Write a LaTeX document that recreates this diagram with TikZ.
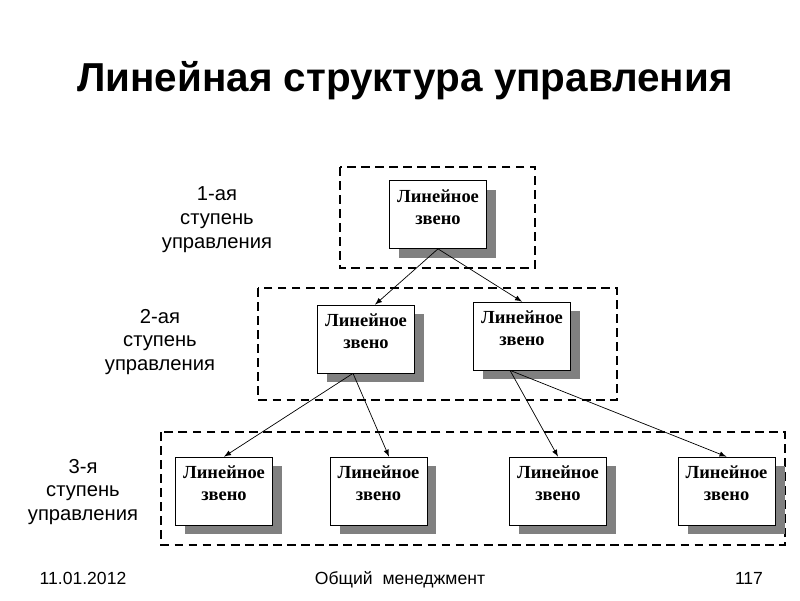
\documentclass[tikz,border=0pt]{standalone}
\usepackage{fontspec}
\setmainfont{Liberation Sans}
\newfontfamily\zvenofont{Liberation Serif}
\usetikzlibrary{shadows}

\begin{document}
\begin{tikzpicture}[x=0.02cm, y=-0.02cm, >=latex,
    zveno/.style={rectangle, draw, fill=white, thin, minimum width=1.94cm, minimum height=1.36cm,
        align=center, font=\zvenofont\bfseries\fontsize{10.5}{12.5}\selectfont, text depth=0.3cm,
        drop shadow={shadow xshift=0.19cm, shadow yshift=-0.18cm, fill=black!50, opacity=1}},
    uroven/.style={draw, dash pattern=on 5pt off 3pt, line width=1.1pt},
    stupen/.style={align=center, font=\fontsize{11.5}{13.6}\selectfont},
    podval/.style={anchor=base, font=\fontsize{10}{12}\selectfont}]
    \useasboundingbox (0,0) rectangle (800,600);

    \node[anchor=base, font=\bfseries\fontsize{23}{27}\selectfont] (title) at (405,91) {Линейная структура управления};

    % levels
    \draw[uroven] (340,167) rectangle (535,268);
    \draw[uroven] (258,288) rectangle (617,400);
    \draw[uroven] (161,432) rectangle (785,545);

    \node[stupen] (st1) at (217,220) {1-ая\\ступень\\управления};
    \node[stupen] (st2) at (160,342) {2-ая\\ступень\\управления};
    \node[stupen] (st3) at (83,492) {3-я\\ступень\\управления};

    \node[zveno] (L1) at (438,214.5) {Линейное\\звено};
    \node[zveno] (L2a) at (366,339) {Линейное\\звено};
    \node[zveno] (L2b) at (522,336) {Линейное\\звено};
    \node[zveno] (L3a) at (224,491) {Линейное\\звено};
    \node[zveno] (L3b) at (378.5,491) {Линейное\\звено};
    \node[zveno] (L3c) at (558,491) {Линейное\\звено};
    \node[zveno] (L3d) at (726.5,491) {Линейное\\звено};

    \draw[->] (L1.south) -- ([xshift=0.18cm]L2a.north);
    \draw[->] (L1.south) -- (L2b.north);
    \draw[->] ([xshift=-0.26cm]L2a.south) -- (L3a.north);
    \draw[->] ([xshift=-0.26cm]L2a.south) -- ([xshift=0.21cm]L3b.north);
    \draw[->] ([xshift=-0.24cm]L2b.south) -- (L3c.north);
    \draw[->] ([xshift=-0.24cm]L2b.south) -- (L3d.north);

    % footer
    \node[podval] (date) at (83,584) {11.01.2012};
    \node[podval] (course) at (400,584) {Общий\ \ менеджмент};
    \node[podval] (page) at (749,584) {117};
\end{tikzpicture}
\end{document}
